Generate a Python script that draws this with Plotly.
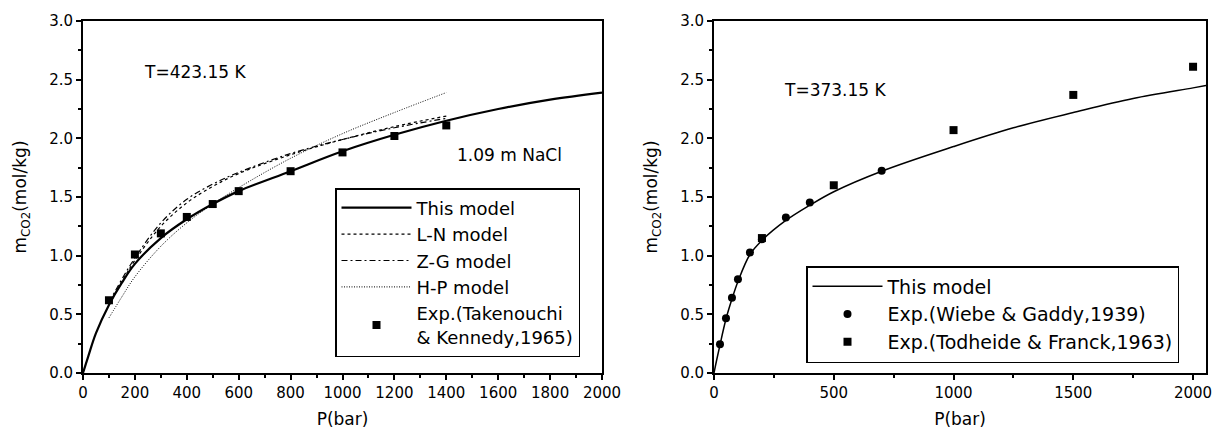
import plotly.graph_objects as go

# ---------------- Left panel data (T = 423.15 K, 1.09 m NaCl) ----------------
p_model_L = [0, 20, 50, 100, 150, 200, 300, 400, 500, 600, 800, 1000, 1200, 1400, 1600, 1800, 2000]
m_model_L = [0, 0.14, 0.34, 0.58, 0.77, 0.93, 1.15, 1.31, 1.44, 1.55, 1.72, 1.89, 2.03, 2.15, 2.25, 2.33, 2.39]

p_ln = [100, 150, 200, 300, 400, 500, 600, 800, 1000, 1200, 1400]
m_ln = [0.58, 0.78, 0.96, 1.25, 1.45, 1.59, 1.70, 1.86, 1.99, 2.10, 2.19]

p_zg = [100, 150, 200, 300, 400, 500, 600, 800, 1000, 1200, 1400]
m_zg = [0.60, 0.80, 0.98, 1.28, 1.48, 1.61, 1.71, 1.87, 1.99, 2.09, 2.17]

p_hp = [100, 150, 200, 300, 400, 500, 600, 800, 1000, 1200, 1400]
m_hp = [0.47, 0.65, 0.82, 1.08, 1.28, 1.44, 1.58, 1.83, 2.04, 2.22, 2.39]

p_exp_tk = [100, 200, 300, 400, 500, 600, 800, 1000, 1200, 1400]
m_exp_tk = [0.62, 1.01, 1.19, 1.33, 1.44, 1.55, 1.72, 1.88, 2.02, 2.11]

# ---------------- Right panel data (T = 373.15 K) ----------------
p_model_R = [0, 10, 25, 50, 75, 100, 150, 200, 300, 400, 500, 700, 1000, 1250, 1500, 1750, 2000, 2054]
m_model_R = [0, 0.10, 0.24, 0.46, 0.63, 0.78, 1.01, 1.13, 1.30, 1.43, 1.545, 1.72, 1.93, 2.09, 2.22, 2.34, 2.43, 2.45]

p_exp_wg = [25, 50, 75, 100, 150, 200, 300, 400, 700]
m_exp_wg = [0.245, 0.466, 0.642, 0.80, 1.027, 1.14, 1.326, 1.454, 1.724]

p_exp_tf = [200, 500, 1000, 1500, 2000]
m_exp_tf = [1.15, 1.60, 2.07, 2.37, 2.61]

FONT = "DejaVu Sans"
OFF = 8                      # browser default body margin
W, H = 1225 - OFF, 436 - OFF


def xp(px):
    return (px - OFF) / W


def yp(py):
    return 1 - (py - OFF) / H


fig = go.Figure()

# Left panel traces
fig.add_trace(go.Scatter(x=p_model_L, y=m_model_L, mode="lines", name="This model",
                         line=dict(color="black", width=2.2, shape="spline"),
                         xaxis="x", yaxis="y", legend="legend"))
fig.add_trace(go.Scatter(x=p_ln, y=m_ln, mode="lines", name="L-N model",
                         line=dict(color="black", width=1.2, dash="3px,3px", shape="spline"),
                         xaxis="x", yaxis="y", legend="legend"))
fig.add_trace(go.Scatter(x=p_zg, y=m_zg, mode="lines", name="Z-G model",
                         line=dict(color="black", width=1.2, dash="6px,3px,2px,3px", shape="spline"),
                         xaxis="x", yaxis="y", legend="legend"))
fig.add_trace(go.Scatter(x=p_hp, y=m_hp, mode="lines", name="H-P model",
                         line=dict(color="black", width=1, dash="1px,1.5px", shape="spline"),
                         xaxis="x", yaxis="y", legend="legend"))
fig.add_trace(go.Scatter(x=p_exp_tk, y=m_exp_tk, mode="markers",
                         name="Exp.(Takenouchi<br>& Kennedy,1965)",
                         marker=dict(symbol="square", size=8, color="black"),
                         xaxis="x", yaxis="y", legend="legend"))

# Right panel traces
fig.add_trace(go.Scatter(x=p_model_R, y=m_model_R, mode="lines", name="This model",
                         line=dict(color="black", width=1.5, shape="spline"),
                         xaxis="x2", yaxis="y2", legend="legend2"))
fig.add_trace(go.Scatter(x=p_exp_wg, y=m_exp_wg, mode="markers",
                         name="Exp.(Wiebe & Gaddy,1939)",
                         marker=dict(symbol="circle", size=8, color="black"),
                         xaxis="x2", yaxis="y2", legend="legend2"))
fig.add_trace(go.Scatter(x=p_exp_tf, y=m_exp_tf, mode="markers",
                         name="Exp.(Todheide & Franck,1963)",
                         marker=dict(symbol="square", size=8, color="black"),
                         xaxis="x2", yaxis="y2", legend="legend2"))

ydom = [yp(373), yp(21)]

axis_common = dict(
    showline=True, linecolor="black", linewidth=2, mirror=True,
    ticks="outside", ticklen=5, tickwidth=1.5, tickcolor="black",
    showgrid=False, zeroline=False, automargin=False,
    tickfont=dict(family=FONT, size=15, color="black"),
    title_font=dict(family=FONT, size=17, color="black"),
)

fig.update_layout(
    width=W, height=H,
    margin=dict(l=0, r=0, t=0, b=0),
    paper_bgcolor="white", plot_bgcolor="white",
    font=dict(family=FONT, color="black"),
    xaxis=dict(domain=[xp(83), xp(602)], range=[0, 2000], dtick=200, anchor="y",
               minor=dict(dtick=100, ticklen=3, ticks="outside", tickcolor="black"),
               title=dict(text="P(bar)", standoff=12), **axis_common),
    yaxis=dict(domain=ydom, range=[0, 3.0], dtick=0.5, tickformat=".1f", anchor="x",
               minor=dict(dtick=0.25, ticklen=3, ticks="outside", tickcolor="black"),
               title=dict(text="m<sub>CO2</sub>(mol/kg)", standoff=18), **axis_common),
    xaxis2=dict(domain=[xp(714), xp(1206)], range=[0, 2054], dtick=500, anchor="y2",
                minor=dict(dtick=250, ticklen=3, ticks="outside", tickcolor="black"),
                title=dict(text="P(bar)", standoff=12), **axis_common),
    yaxis2=dict(domain=ydom, range=[0, 3.0], dtick=0.5, tickformat=".1f", anchor="x2",
                minor=dict(dtick=0.25, ticklen=3, ticks="outside", tickcolor="black"),
                title=dict(text="m<sub>CO2</sub>(mol/kg)", standoff=18), **axis_common),
    legend=dict(x=xp(335), y=yp(188), xanchor="left", yanchor="top",
                bgcolor="white", bordercolor="black", borderwidth=1.5,
                font=dict(family=FONT, size=18, color="black"),
                itemwidth=70, tracegroupgap=0),
    legend2=dict(x=xp(806), y=yp(266), xanchor="left", yanchor="top",
                 bgcolor="white", bordercolor="black", borderwidth=1.5,
                 font=dict(family=FONT, size=19, color="black"),
                 itemwidth=70, tracegroupgap=0),
    showlegend=True,
    annotations=[
        dict(x=432, y=2.565, xref="x", yref="y", text="T=423.15 K", showarrow=False,
             font=dict(family=FONT, size=17, color="black")),
        dict(x=1645, y=1.86, xref="x", yref="y", text="1.09 m NaCl", showarrow=False,
             font=dict(family=FONT, size=17, color="black")),
        dict(x=509, y=2.41, xref="x2", yref="y2", text="T=373.15 K", showarrow=False,
             font=dict(family=FONT, size=17, color="black")),
    ],
)

fig.write_html("out.html")
